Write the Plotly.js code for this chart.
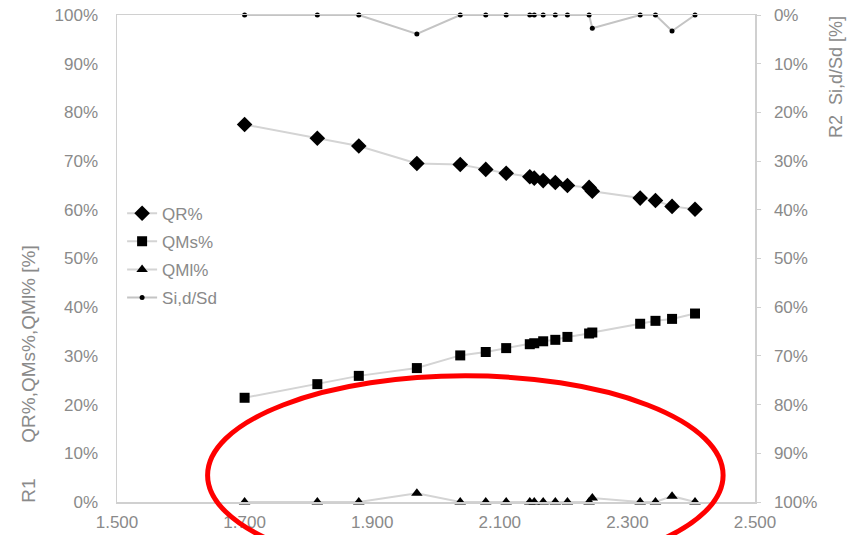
<!DOCTYPE html>
<html>
<head>
<meta charset="utf-8">
<script src="https://cdn.plot.ly/plotly-3.0.1.min.js"></script>
<style>html,body{margin:0;padding:0;background:#fff;}#chart{width:854px;height:535px;}</style>
</head>
<body>
<div id="chart"></div>
<script>
// Specific energy values (x axis)
const xVals = [1700, 1814, 1879, 1970, 2038, 2078, 2110, 2147, 2154, 2168, 2187, 2206, 2240, 2245, 2320, 2344, 2370, 2406];
// Left axis series (%)
const qrPct  = [77.5, 74.7, 73.1, 69.5, 69.3, 68.3, 67.5, 66.8, 66.5, 66.0, 65.6, 65.0, 64.6, 63.8, 62.4, 61.9, 60.7, 60.1];
const qmsPct = [21.4, 24.2, 25.9, 27.5, 30.1, 30.8, 31.6, 32.4, 32.6, 33.0, 33.3, 33.9, 34.6, 34.8, 36.6, 37.2, 37.6, 38.7];
const qmlPct = [0, 0, 0, 1.8, 0, 0, 0, 0, 0, 0, 0, 0, 0, 0.8, 0, 0, 1.2, 0];
// Right axis series (%), reversed axis
const siPct  = [0, 0, 0, 3.9, 0, 0, 0, 0, 0, 0, 0, 0, 0, 2.7, 0, 0, 3.3, 0];

const seriesNames = ['QR%', 'QMs%', 'QMl%', 'Si,d/Sd'];
const pctTicks = [0, 10, 20, 30, 40, 50, 60, 70, 80, 90, 100];
const pctTickText = ['0%', '10%', '20%', '30%', '40%', '50%', '60%', '70%', '80%', '90%', '100%'];
const xTicks = [1500, 1700, 1900, 2100, 2300, 2500];
const xTickText = ['1.500', '1.700', '1.900', '2.100', '2.300', '2.500'];

const lineCol = '#d4d4d4';
const axisCol = '#d0d0d0';
const textCol = '#8a8a8a';
const fontFam = '"Liberation Sans", Arial, sans-serif';

function tr(name, y, symbol, size, axis, grp, lc) {
  return {
    x: xVals, y: y, name: name, type: 'scatter', mode: 'lines+markers',
    yaxis: axis, legendgroup: grp, cliponaxis: false,
    line: {color: lc || lineCol, width: 2},
    marker: {symbol: symbol, size: size, color: '#000'}
  };
}

const data = [
  tr(seriesNames[0], qrPct, 'diamond', 12, 'y', 'a'),
  tr(seriesNames[1], qmsPct, 'square', 10, 'y', 'b'),
  tr(seriesNames[2], qmlPct, 'triangle-up', 10, 'y', 'c'),
  tr(seriesNames[3], siPct, 'circle', 5, 'y2', 'd', '#c4c4c4')
];

const layout = {
  width: 854, height: 535,
  margin: {l: 117, r: 99, t: 15, b: 33},
  paper_bgcolor: '#fff', plot_bgcolor: '#fff',
  font: {family: fontFam, size: 17, color: textCol},
  showlegend: true,
  legend: {
    x: 0.008, y: 0.629, xanchor: 'left', yanchor: 'top',
    traceorder: 'grouped', tracegroupgap: 3,
    bgcolor: 'rgba(0,0,0,0)', font: {family: fontFam, size: 17, color: textCol}
  },
  xaxis: {
    range: [1500, 2500], tickmode: 'array', tickvals: xTicks, ticktext: xTickText,
    showgrid: false, zeroline: false,
    showline: true, linecolor: axisCol, linewidth: 1.5, mirror: true,
    ticks: '', ticklabelstandoff: 4, tickfont: {size: 17, color: textCol}
  },
  yaxis: {
    range: [0, 100], tickmode: 'array', tickvals: pctTicks, ticktext: pctTickText,
    showgrid: false, zeroline: false,
    showline: true, linecolor: axisCol, linewidth: 1.5,
    ticks: '', ticklabelstandoff: 14, tickfont: {size: 17, color: textCol}
  },
  yaxis2: {
    range: [100, 0], tickmode: 'array', tickvals: pctTicks, ticktext: pctTickText,
    overlaying: 'y', side: 'right',
    showgrid: false, zeroline: false,
    showline: true, linecolor: axisCol, linewidth: 1.5,
    ticks: 'outside', ticklen: 4, tickcolor: axisCol, ticklabelstandoff: 10,
    tickfont: {size: 17, color: textCol}
  },
  annotations: [
    {text: 'QR%,QMs%,QMl% [%]', xref: 'paper', yref: 'paper', x: -0.138, y: 0.325,
     xanchor: 'center', yanchor: 'middle', textangle: -90, showarrow: false,
     font: {family: fontFam, size: 19, color: textCol}},
    {text: 'R1', xref: 'paper', yref: 'paper', x: -0.138, y: 0.023,
     xanchor: 'center', yanchor: 'middle', textangle: -90, showarrow: false,
     font: {family: fontFam, size: 19, color: textCol}},
    {text: 'R2 &nbsp;Si,d/Sd [%]', xref: 'paper', yref: 'paper', x: 1.128, y: 0.872,
     xanchor: 'center', yanchor: 'middle', textangle: -90, showarrow: false,
     font: {family: fontFam, size: 18, color: textCol}}
  ],
  shapes: [
    {type: 'circle', xref: 'paper', yref: 'paper', x0: 0.142, x1: 0.950, y0: -0.149, y1: 0.259,
     line: {color: '#ff0000', width: 5}, fillcolor: 'rgba(0,0,0,0)', layer: 'above'}
  ]
};

Plotly.newPlot('chart', data, layout, {displayModeBar: false, staticPlot: true});
</script>
</body>
</html>
